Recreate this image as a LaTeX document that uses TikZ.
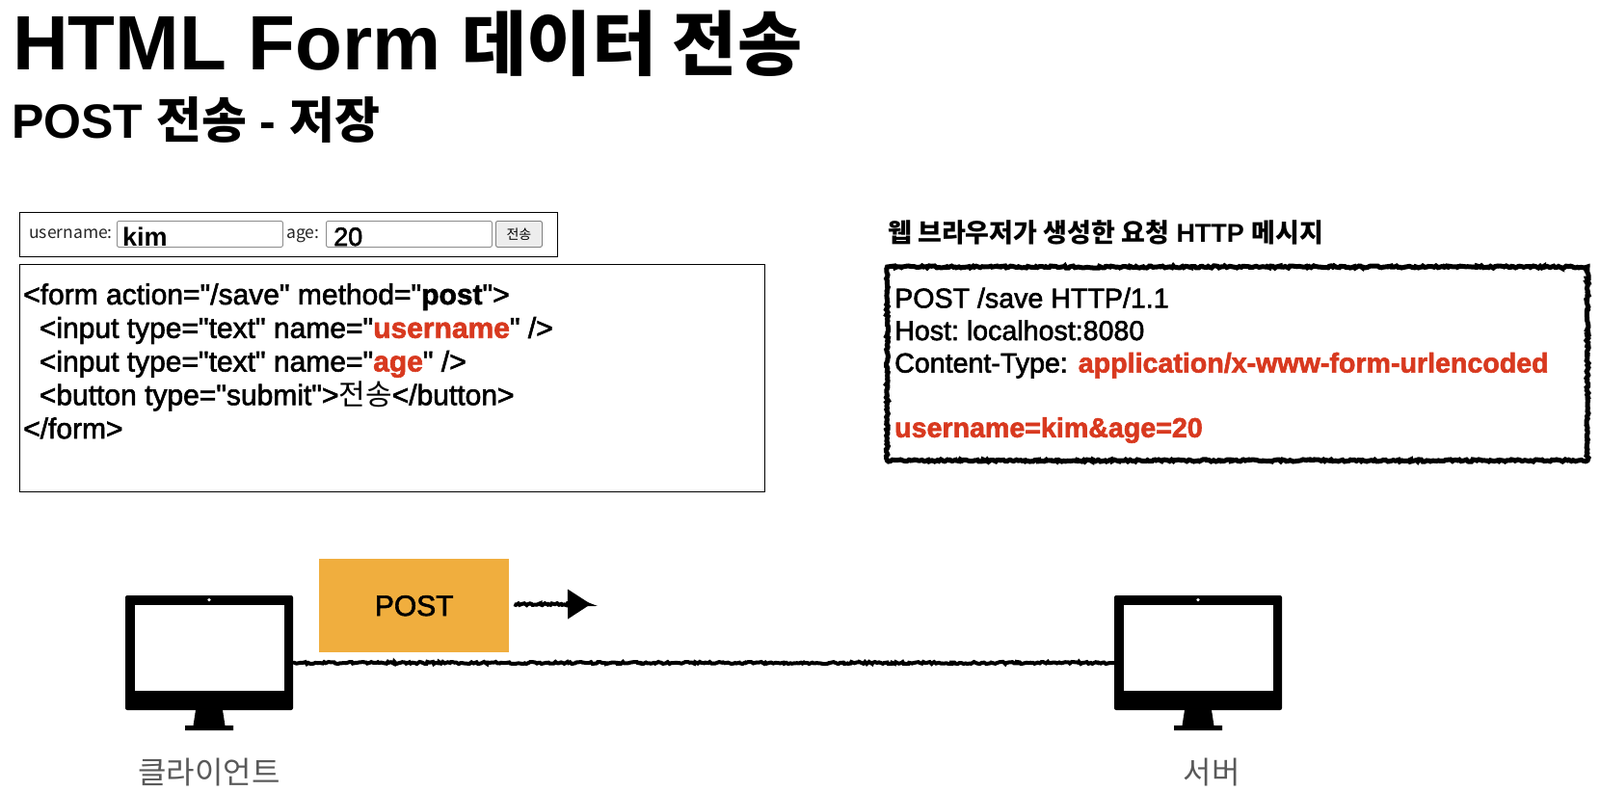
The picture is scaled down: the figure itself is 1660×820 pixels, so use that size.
\documentclass[tikz,border=0pt]{standalone}
\usepackage{fontspec}
\usepackage{xcolor}
\setmainfont{Liberation Sans}
\newfontfamily\kr{Noto Sans CJK KR}
\newfontfamily\krmed{Noto Sans CJK KR Medium}
\newfontfamily\medium[FakeBold=2]{Liberation Sans}
\usetikzlibrary{positioning,arrows.meta,decorations.pathmorphing,calc}
\definecolor{postorange}{HTML}{F0AE3E}
\definecolor{keyred}{HTML}{D8391F}
\newcommand{\red}[1]{\textcolor{keyred}{\bfseries #1}}
\frenchspacing
\tikzset{
	plainbox/.style={draw=black, line width=0.9pt, inner sep=0pt},
	inputbox/.style={draw=black!45, line width=0.9pt, rounded corners=2pt, inner sep=0pt, minimum width=172pt, minimum height=27pt},
	roughline/.style={black, line width=4pt, decorate, decoration={random steps, segment length=2pt, amplitude=1.1pt, post length=4pt}},
	codetext/.style={anchor=north west, align=left, inner sep=0pt, font=\medium\fontsize{30}{34.8}\selectfont},
	msgtext/.style={anchor=north west, align=left, inner sep=0pt, font=\medium\fontsize{28.6}{33.6}\selectfont},
	formtext/.style={inner sep=0pt, font=\kr\fontsize{17.5}{20}\selectfont, text=black!85},
	pcbody/.style={fill=black, rounded corners=2pt, inner sep=0pt, minimum width=174pt, minimum height=119pt},
	pcscreen/.style={fill=white, inner sep=0pt, minimum width=155pt, minimum height=89pt},
	pclabel/.style={inner sep=0pt, text=black!65, font=\kr\fontsize{32}{36}\selectfont},
}
\begin{document}
\begin{tikzpicture}[x=1pt, y=-1pt]
	\useasboundingbox (0,0) rectangle (1660,820);
	% titles
	\node[anchor=base west, inner sep=0pt, font=\bfseries\fontsize{80}{80}\selectfont] (title) at (13,72.7) {HTML Form {\krmed\fontsize{73}{80}\selectfont 데이터 전송}};
	\node[anchor=base west, inner sep=0pt, font=\bfseries\fontsize{50}{50}\selectfont] (subtitle) at (12,143) {POST {\kr\fontsize{51}{50}\selectfont 전송} - {\kr\fontsize{51}{50}\selectfont 저장}};
	% the form as the browser shows it
	\node[plainbox, minimum width=558pt, minimum height=46pt, anchor=north west] (formbox) at (20,220) {};
	\node[formtext, anchor=base west] (userlabel) at (30,247) {username:};
	\node[inputbox, anchor=north west] (userinput) at (121,229) {};
	\node[anchor=base west, inner sep=0pt, font=\bfseries\fontsize{27}{30}\selectfont] at (127,255) (userval) {kim};
	\node[formtext, anchor=base west] (agelabel) at (297,247) {age:};
	\node[inputbox, anchor=north west] (ageinput) at (338,229) {};
	\node[anchor=base west, inner sep=0pt, font=\medium\fontsize{27}{30}\selectfont] at (346,255) (ageval) {20};
	\node[draw=black!50, fill=black!7, line width=0.9pt, rounded corners=2pt, inner sep=0pt, minimum width=48pt, minimum height=27pt, anchor=north west, font=\kr\fontsize{14}{16}\selectfont] (sendbtn) at (514,229) {전송};
	% html source
	\node[plainbox, minimum width=773pt, minimum height=236pt, anchor=north west] (codebox) at (20,274) {};
	\node[codetext] (codetxt) at (24,294) {<form action="/save" method="{\bfseries post}">\\
		~~<input type="text" name="\red{username}" />\\
		~~<input type="text" name="\red{age}" />\\
		~~<button type="submit">{\kr 전송}</button>\\
		</form>};
	% http message
	\node[anchor=base west, inner sep=0pt, font=\bfseries\fontsize{27}{28}\selectfont] (msgtitle) at (921,251) {{\kr 웹 브라우저가 생성한 요청} HTTP {\kr 메시지}};
	\draw[roughline, line width=5pt] (920.5,277) rectangle (1647,478);
	\node[msgtext] (msgtxt) at (928,298.5) {POST /save HTTP/1.1\\
		Host: localhost:8080\\
		Content-Type: \hspace{3pt}\red{application/x-www-form-urlencoded}\\
		~\\
		\red{username=kim\&age=20}};
	% computers
	\foreach \pcname/\pcx in {client/217,server/1243} {
		\node[pcbody] (\pcname) at (\pcx,677.5) {};
		\node[pcscreen] (\pcname screen) at (\pcx,672.5) {};
		\fill[white] (\pcx,622.6) circle (1.8);
		\fill[black] (\pcx-14,737) -- (\pcx+14,737) -- (\pcx+16.5,753) -- (\pcx+25,753) -- (\pcx+25,758) -- (\pcx-25,758) -- (\pcx-25,753) -- (\pcx-16.5,753) -- cycle;
	}
	\node[pclabel] (clientlabel) at (217,802) {클라이언트};
	\node[pclabel] (serverlabel) at (1257,802) {서버};
	% request
	\node[fill=postorange, inner sep=0pt, minimum width=197pt, minimum height=97pt, anchor=north west, font=\medium\fontsize{30}{32}\selectfont] (post) at (331,580) {POST};
	\coordinate (posttip) at (613,627);
	\draw[roughline, -{Triangle[length=24pt,width=30pt]}] (post.east) ++(5,-1.5) coordinate (poststart) -- (posttip);
	\draw[roughline] ([yshift=-10.5pt]client.east) -- ([yshift=-10.5pt]server.west);
\end{tikzpicture}
\end{document}
